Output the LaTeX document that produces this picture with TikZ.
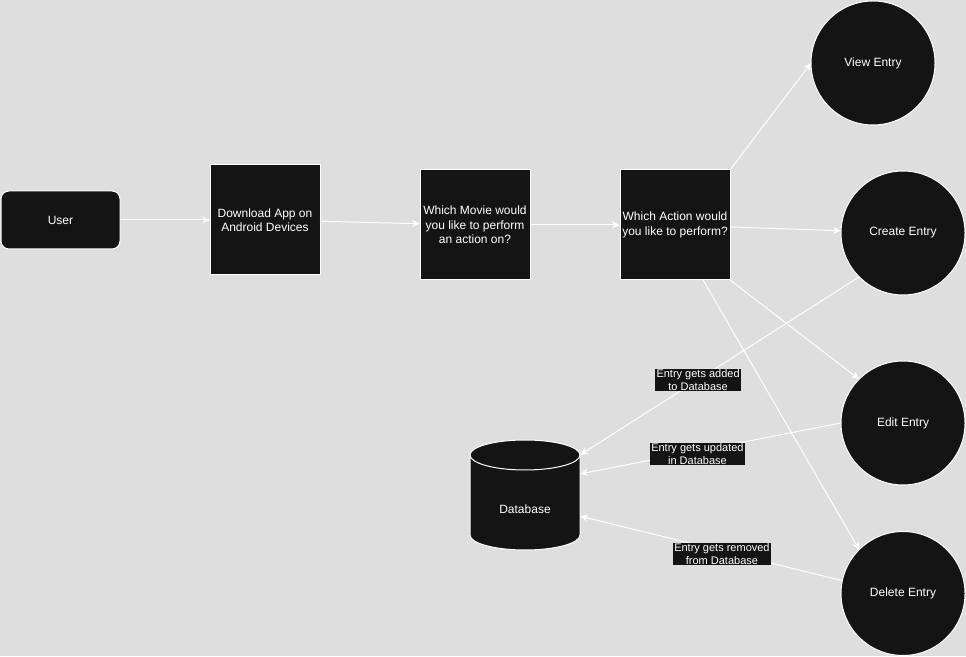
\documentclass[tikz,border=0pt]{standalone}
\usepackage{fontspec}
\setmainfont{Liberation Sans}
\usetikzlibrary{arrows.meta,calc}
\definecolor{bgc}{HTML}{DEDEDE}
\definecolor{boxc}{HTML}{141414}
\begin{document}
\begin{tikzpicture}[x=1pt,y=1pt,
  box/.style={draw=white,line width=1pt,fill=boxc,text=white,align=center,font=\fontsize{12}{14.5}\selectfont,inner sep=0pt,outer sep=0pt},
  sq/.style={box,minimum width=110pt,minimum height=110pt},
  circ/.style={box,circle,minimum size=124pt},
  conn/.style={draw=white,line width=1pt,-{Stealth[length=8pt,width=7pt,inset=2.5pt]}},
  lbl/.style={fill=boxc,text=white,font=\fontsize{11}{13}\selectfont,align=center,inner xsep=1.5pt,inner ysep=0.5pt}]
\fill[bgc] (0,0) rectangle (966,656);
\useasboundingbox (0,0) rectangle (966,656);
% nodes
\node[box,rounded corners=8pt,minimum width=119pt,minimum height=58pt] (user) at (60.5,436) {User};
\node[sq] (dl) at (265,436) {Download App on\\Android Devices};
\node[sq] (wm) at (475,431) {Which Movie would\\you like to perform\\an action on?};
\node[sq] (wa) at (675,431) {Which Action would\\you like to perform?};
\node[circ] (view) at (873,593) {View Entry};
\node[circ] (create) at (903,423) {Create Entry};
\node[circ] (edit) at (903,233) {Edit Entry};
\node[circ] (delete) at (903,62.5) {Delete Entry};
% database cylinder
\node[minimum width=110pt,minimum height=110pt,inner sep=0pt,outer sep=0pt] (db) at (525,161) {};
\draw[draw=white,line width=1pt,fill=boxc] ($(db.north west)+(0,-15)$) -- ++(0,-80)
  arc[start angle=180,end angle=360,x radius=55,y radius=15] -- ++(0,80)
  arc[start angle=0,end angle=180,x radius=55,y radius=15] -- cycle;
\draw[draw=white,line width=1pt] ($(db.north west)+(0,-15)$)
  arc[start angle=180,end angle=360,x radius=55,y radius=15];
\node[text=white,font=\fontsize{12}{14.5}\selectfont] (dbtext) at (525,147) {Database};
% connectors
\draw[conn] (user) -- (dl);
\draw[conn] (dl) -- (wm);
\draw[conn] (wm) -- (wa);
\draw[conn] (wa.north east) -- (view.west);
\draw[conn] (wa) -- (create);
\draw[conn] (wa.south east) -- (edit.135);
\draw[conn] (wa.-63) -- (delete.135);
\draw[conn] (create.225) -- node[lbl,pos=0.577] (ladd) {Entry gets added\\to Database} (db.36);
\draw[conn] (edit.180) -- node[lbl,pos=0.55,yshift=-3pt] (lupd) {Entry gets updated\\in Database} (db.21);
\draw[conn] (delete.168) -- node[lbl,pos=0.459,yshift=-3pt] (lrem) {Entry gets removed\\from Database} (db.-21);
\end{tikzpicture}
\end{document}
